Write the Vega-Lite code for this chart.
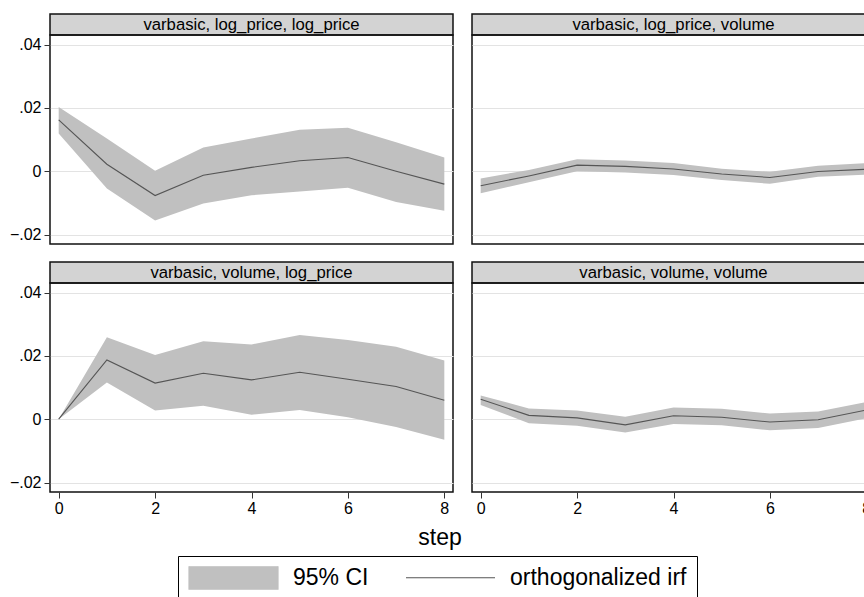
{
  "$schema": "https://vega.github.io/schema/vega-lite/v6.json",
  "padding": {"left": 8, "top": 13, "right": 0, "bottom": 0},
  "background": "white",
  "config": {
    "font": "Liberation Sans",
    "axis": {"labelFont": "Liberation Sans", "labelColor": "black", "labelFontSize": 16, "tickColor": "#333", "gridColor": "#e3e3e3", "gridWidth": 1}
  },
  "datasets": {
    "irf": [
      {"impulse": "log_price", "response": "log_price", "step": 0, "irf": 0.0162, "lo": 0.0119, "hi": 0.0203},
      {"impulse": "log_price", "response": "log_price", "step": 1, "irf": 0.0022, "lo": -0.0055, "hi": 0.0103},
      {"impulse": "log_price", "response": "log_price", "step": 2, "irf": -0.0077, "lo": -0.0156, "hi": 0.0001},
      {"impulse": "log_price", "response": "log_price", "step": 3, "irf": -0.0013, "lo": -0.0102, "hi": 0.0075},
      {"impulse": "log_price", "response": "log_price", "step": 4, "irf": 0.0012, "lo": -0.0076, "hi": 0.0103},
      {"impulse": "log_price", "response": "log_price", "step": 5, "irf": 0.0033, "lo": -0.0064, "hi": 0.0131},
      {"impulse": "log_price", "response": "log_price", "step": 6, "irf": 0.0043, "lo": -0.0052, "hi": 0.0137},
      {"impulse": "log_price", "response": "log_price", "step": 7, "irf": 0.0000, "lo": -0.0097, "hi": 0.0091},
      {"impulse": "log_price", "response": "log_price", "step": 8, "irf": -0.0041, "lo": -0.0125, "hi": 0.0043},
      {"impulse": "log_price", "response": "volume", "step": 0, "irf": -0.0046, "lo": -0.0070, "hi": -0.0023},
      {"impulse": "log_price", "response": "volume", "step": 1, "irf": -0.0015, "lo": -0.0035, "hi": 0.0004},
      {"impulse": "log_price", "response": "volume", "step": 2, "irf": 0.0019, "lo": 0.0000, "hi": 0.0038},
      {"impulse": "log_price", "response": "volume", "step": 3, "irf": 0.0015, "lo": -0.0004, "hi": 0.0034},
      {"impulse": "log_price", "response": "volume", "step": 4, "irf": 0.0007, "lo": -0.0012, "hi": 0.0026},
      {"impulse": "log_price", "response": "volume", "step": 5, "irf": -0.0009, "lo": -0.0028, "hi": 0.0008},
      {"impulse": "log_price", "response": "volume", "step": 6, "irf": -0.0020, "lo": -0.0040, "hi": -0.0002},
      {"impulse": "log_price", "response": "volume", "step": 7, "irf": -0.0001, "lo": -0.0018, "hi": 0.0017},
      {"impulse": "log_price", "response": "volume", "step": 8, "irf": 0.0006, "lo": -0.0011, "hi": 0.0025},
      {"impulse": "volume", "response": "log_price", "step": 0, "irf": 0.0000, "lo": 0.0000, "hi": 0.0000},
      {"impulse": "volume", "response": "log_price", "step": 1, "irf": 0.0187, "lo": 0.0116, "hi": 0.0259},
      {"impulse": "volume", "response": "log_price", "step": 2, "irf": 0.0114, "lo": 0.0027, "hi": 0.0203},
      {"impulse": "volume", "response": "log_price", "step": 3, "irf": 0.0145, "lo": 0.0042, "hi": 0.0246},
      {"impulse": "volume", "response": "log_price", "step": 4, "irf": 0.0124, "lo": 0.0014, "hi": 0.0236},
      {"impulse": "volume", "response": "log_price", "step": 5, "irf": 0.0148, "lo": 0.0029, "hi": 0.0266},
      {"impulse": "volume", "response": "log_price", "step": 6, "irf": 0.0126, "lo": 0.0006, "hi": 0.0250},
      {"impulse": "volume", "response": "log_price", "step": 7, "irf": 0.0103, "lo": -0.0025, "hi": 0.0229},
      {"impulse": "volume", "response": "log_price", "step": 8, "irf": 0.0060, "lo": -0.0065, "hi": 0.0185},
      {"impulse": "volume", "response": "volume", "step": 0, "irf": 0.0063, "lo": 0.0045, "hi": 0.0075},
      {"impulse": "volume", "response": "volume", "step": 1, "irf": 0.0012, "lo": -0.0013, "hi": 0.0034},
      {"impulse": "volume", "response": "volume", "step": 2, "irf": 0.0004, "lo": -0.0021, "hi": 0.0027},
      {"impulse": "volume", "response": "volume", "step": 3, "irf": -0.0018, "lo": -0.0042, "hi": 0.0008},
      {"impulse": "volume", "response": "volume", "step": 4, "irf": 0.0011, "lo": -0.0015, "hi": 0.0037},
      {"impulse": "volume", "response": "volume", "step": 5, "irf": 0.0006, "lo": -0.0019, "hi": 0.0033},
      {"impulse": "volume", "response": "volume", "step": 6, "irf": -0.0009, "lo": -0.0035, "hi": 0.0018},
      {"impulse": "volume", "response": "volume", "step": 7, "irf": -0.0002, "lo": -0.0028, "hi": 0.0024},
      {"impulse": "volume", "response": "volume", "step": 8, "irf": 0.0029, "lo": 0.0003, "hi": 0.0054}
    ]
  },
  "spacing": 6,
  "vconcat": [
    {
      "spacing": 16,
      "vconcat": [
        {
          "spacing": 17,
          "hconcat": [
            {
              "bounds": "flush",
              "spacing": 0,
              "vconcat": [
                {
                  "width": 403, "height": 21,
                  "view": {"fill": "#d3d3d3", "stroke": "#111", "strokeWidth": 1.5},
                  "data": {"values": [{"t": "varbasic, log_price, log_price"}]},
                  "mark": {"type": "text", "fontSize": 16.7, "font": "Liberation Sans", "color": "black", "baseline": "middle"},
                  "encoding": {"text": {"field": "t"}}
                },
                {
                  "width": 403, "height": 209,
                  "view": {"stroke": "#111", "strokeWidth": 1.5},
                  "data": {"name": "irf"},
                  "transform": [{"filter": "datum.impulse === 'log_price' && datum.response === 'log_price'"}],
                  "encoding": {"x": {"field": "step", "type": "quantitative", "scale": {"domain": [-0.18, 8.18], "nice": false, "zero": false}, "axis": null}},
                  "layer": [
                    {
                      "mark": {"type": "area", "opacity": 1},
                      "encoding": {
                        "y": {"field": "lo", "type": "quantitative", "scale": {"domain": [-0.023, 0.043], "nice": false, "zero": false},
                          "axis": {"title": null, "values": [-0.02, 0, 0.02, 0.04], "labelExpr": "datum.value == 0 ? '0' : replace(format(datum.value, '.2f'), '0.', '.')", "grid": true, "domain": false, "tickSize": 6, "labelPadding": 3}},
                        "y2": {"field": "hi"},
                        "color": {"datum": "95% CI", "type": "nominal",
                          "scale": {"domain": ["95% CI", "orthogonalized irf"], "range": ["#c0c0c0", "#555555"]},
                          "legend": {
                            "orient": "none", "legendX": 128, "legendY": 542, "direction": "horizontal", "columns": 2,
                            "title": null, "strokeColor": "black", "fillColor": "white", "padding": 10,
                            "symbolSize": 7921, "clipHeight": 23, "labelFontSize": 23, "labelFont": "Liberation Sans",
                            "labelColor": "black", "labelOffset": 14, "columnPadding": 36, "labelLimit": 400,
                            "symbolType": {"expr": "datum.value === '95% CI' ? 'M-1,-0.26H1V0.26H-1Z' : 'stroke'"},
                            "symbolFillColor": {"expr": "datum.value === '95% CI' ? '#c0c0c0' : 'transparent'"},
                            "symbolStrokeColor": {"expr": "datum.value === '95% CI' ? '#c0c0c0' : '#555555'"},
                            "symbolStrokeWidth": 1.2,
                            "symbolOpacity": 1
                          }
                        }
                      }
                    },
                    {
                      "mark": {"type": "line", "strokeWidth": 1.1},
                      "encoding": {
                        "y": {"field": "irf", "type": "quantitative",
                          "axis": {"title": null, "values": [-0.02, 0, 0.02, 0.04], "labelExpr": "datum.value == 0 ? '0' : replace(format(datum.value, '.2f'), '0.', '.')", "grid": true, "domain": false, "tickSize": 6, "labelPadding": 3}},
                        "color": {"datum": "orthogonalized irf", "type": "nominal"}
                      }
                    }
                  ]
                }
              ]
            },
            {
              "bounds": "flush",
              "spacing": 0,
              "vconcat": [
                {
                  "width": 403, "height": 21,
                  "view": {"fill": "#d3d3d3", "stroke": "#111", "strokeWidth": 1.5},
                  "data": {"values": [{"t": "varbasic, log_price, volume"}]},
                  "mark": {"type": "text", "fontSize": 16.7, "font": "Liberation Sans", "color": "black", "baseline": "middle"},
                  "encoding": {"text": {"field": "t"}}
                },
                {
                  "width": 403, "height": 209,
                  "view": {"stroke": "#111", "strokeWidth": 1.5},
                  "data": {"name": "irf"},
                  "transform": [{"filter": "datum.impulse === 'log_price' && datum.response === 'volume'"}],
                  "encoding": {"x": {"field": "step", "type": "quantitative", "scale": {"domain": [-0.18, 8.18], "nice": false, "zero": false}, "axis": null}},
                  "layer": [
                    {
                      "mark": {"type": "area", "opacity": 1},
                      "encoding": {
                        "y": {"field": "lo", "type": "quantitative", "scale": {"domain": [-0.023, 0.043], "nice": false, "zero": false},
                          "axis": {"title": null, "values": [-0.02, 0, 0.02, 0.04], "grid": true, "domain": false, "ticks": false, "labels": false}},
                        "y2": {"field": "hi"},
                        "color": {"datum": "95% CI", "type": "nominal"}
                      }
                    },
                    {
                      "mark": {"type": "line", "strokeWidth": 1.1},
                      "encoding": {
                        "y": {"field": "irf", "type": "quantitative",
                          "axis": {"title": null, "values": [-0.02, 0, 0.02, 0.04], "grid": true, "domain": false, "ticks": false, "labels": false}},
                        "color": {"datum": "orthogonalized irf", "type": "nominal"}
                      }
                    }
                  ]
                }
              ]
            }
          ]
        },
        {
          "spacing": 17,
          "hconcat": [
            {
              "bounds": "flush",
              "spacing": 0,
              "vconcat": [
                {
                  "width": 403, "height": 21,
                  "view": {"fill": "#d3d3d3", "stroke": "#111", "strokeWidth": 1.5},
                  "data": {"values": [{"t": "varbasic, volume, log_price"}]},
                  "mark": {"type": "text", "fontSize": 16.7, "font": "Liberation Sans", "color": "black", "baseline": "middle"},
                  "encoding": {"text": {"field": "t"}}
                },
                {
                  "width": 403, "height": 209,
                  "view": {"stroke": "#111", "strokeWidth": 1.5},
                  "data": {"name": "irf"},
                  "transform": [{"filter": "datum.impulse === 'volume' && datum.response === 'log_price'"}],
                  "encoding": {"x": {"field": "step", "type": "quantitative", "scale": {"domain": [-0.18, 8.18], "nice": false, "zero": false},
                    "axis": {"title": null, "values": [0, 2, 4, 6, 8], "format": "d", "grid": false, "domain": false, "tickSize": 6, "labelPadding": 2}}},
                  "layer": [
                    {
                      "mark": {"type": "area", "opacity": 1},
                      "encoding": {
                        "y": {"field": "lo", "type": "quantitative", "scale": {"domain": [-0.023, 0.043], "nice": false, "zero": false},
                          "axis": {"title": null, "values": [-0.02, 0, 0.02, 0.04], "labelExpr": "datum.value == 0 ? '0' : replace(format(datum.value, '.2f'), '0.', '.')", "grid": true, "domain": false, "tickSize": 6, "labelPadding": 3}},
                        "y2": {"field": "hi"},
                        "color": {"datum": "95% CI", "type": "nominal"}
                      }
                    },
                    {
                      "mark": {"type": "line", "strokeWidth": 1.1},
                      "encoding": {
                        "y": {"field": "irf", "type": "quantitative",
                          "axis": {"title": null, "values": [-0.02, 0, 0.02, 0.04], "labelExpr": "datum.value == 0 ? '0' : replace(format(datum.value, '.2f'), '0.', '.')", "grid": true, "domain": false, "tickSize": 6, "labelPadding": 3}},
                        "color": {"datum": "orthogonalized irf", "type": "nominal"}
                      }
                    }
                  ]
                }
              ]
            },
            {
              "bounds": "flush",
              "spacing": 0,
              "vconcat": [
                {
                  "width": 403, "height": 21,
                  "view": {"fill": "#d3d3d3", "stroke": "#111", "strokeWidth": 1.5},
                  "data": {"values": [{"t": "varbasic, volume, volume"}]},
                  "mark": {"type": "text", "fontSize": 16.7, "font": "Liberation Sans", "color": "black", "baseline": "middle"},
                  "encoding": {"text": {"field": "t"}}
                },
                {
                  "width": 403, "height": 209,
                  "view": {"stroke": "#111", "strokeWidth": 1.5},
                  "data": {"name": "irf"},
                  "transform": [{"filter": "datum.impulse === 'volume' && datum.response === 'volume'"}],
                  "encoding": {"x": {"field": "step", "type": "quantitative", "scale": {"domain": [-0.18, 8.18], "nice": false, "zero": false},
                    "axis": {"title": null, "values": [0, 2, 4, 6, 8], "format": "d", "grid": false, "domain": false, "tickSize": 6, "labelPadding": 2}}},
                  "layer": [
                    {
                      "mark": {"type": "area", "opacity": 1},
                      "encoding": {
                        "y": {"field": "lo", "type": "quantitative", "scale": {"domain": [-0.023, 0.043], "nice": false, "zero": false},
                          "axis": {"title": null, "values": [-0.02, 0, 0.02, 0.04], "grid": true, "domain": false, "ticks": false, "labels": false}},
                        "y2": {"field": "hi"},
                        "color": {"datum": "95% CI", "type": "nominal"}
                      }
                    },
                    {
                      "mark": {"type": "line", "strokeWidth": 1.1},
                      "encoding": {
                        "y": {"field": "irf", "type": "quantitative",
                          "axis": {"title": null, "values": [-0.02, 0, 0.02, 0.04], "grid": true, "domain": false, "ticks": false, "labels": false}},
                        "color": {"datum": "orthogonalized irf", "type": "nominal"}
                      }
                    }
                  ]
                }
              ]
            }
          ]
        }
      ]
    },
    {
      "width": 780, "height": 30,
      "view": {"stroke": null},
      "data": {"values": [{"t": "step"}]},
      "mark": {"type": "text", "fontSize": 23, "font": "Liberation Sans", "color": "black", "baseline": "middle"},
      "encoding": {"text": {"field": "t"}}
    }
  ]
}
